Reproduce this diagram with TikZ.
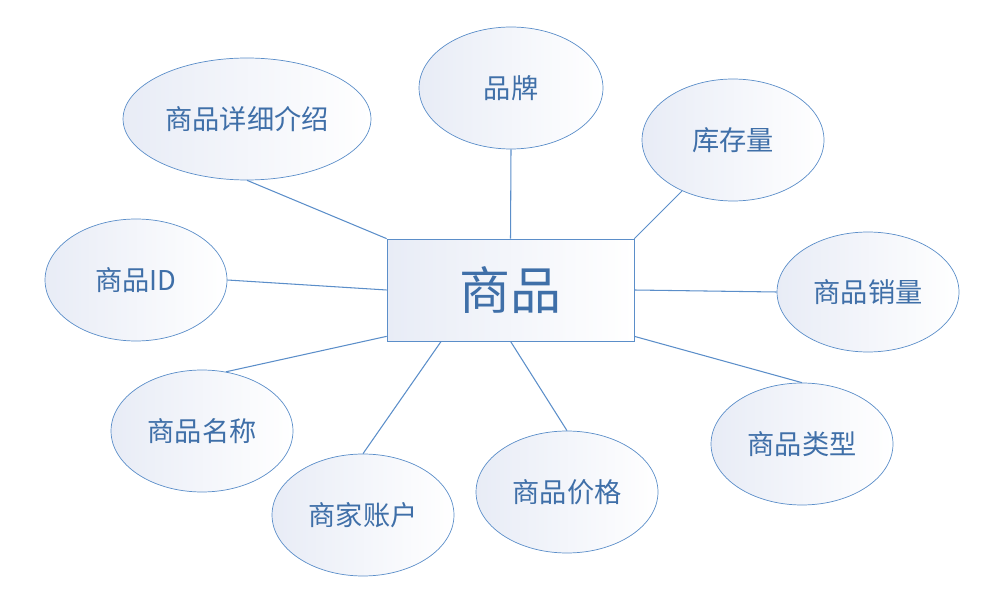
\documentclass[tikz,border=0pt]{standalone}
\usepackage{fontspec}
\setmainfont{Noto Sans CJK SC}
\usetikzlibrary{shapes.geometric,calc}
\definecolor{edgeblue}{HTML}{5B8EC9}
\definecolor{textblue}{HTML}{3F6FA8}
\definecolor{shadeblue}{HTML}{E8ECF6}
\tikzset{
  attr/.style={ellipse,draw=edgeblue,left color=shadeblue,right color=white,
    text=textblue,font=\fontsize{15.5}{17}\selectfont,inner sep=0pt},
  entity/.style={rectangle,draw=edgeblue,left color=shadeblue,right color=white,
    text=textblue,font=\fontsize{29}{32}\selectfont,minimum width=4.94cm,minimum height=2.04cm},
  link/.style={draw=edgeblue,line width=0.6pt}
}
\begin{document}
\begin{tikzpicture}[x=0.02cm,y=-0.02cm]
    \useasboundingbox (0,0) rectangle (993,594);
    %实体
    \node[entity] (goods) at (510.5,290) {商品};
    %属性
    \node[attr,minimum width=3.68cm,minimum height=2.44cm] (brand) at (511,88) {品牌};
    \node[attr,minimum width=4.96cm,minimum height=2.44cm] (detail) at (247,119) {商品详细介绍};
    \node[attr,minimum width=3.64cm,minimum height=2.44cm] (stock) at (733,140) {库存量};
    \node[attr,minimum width=3.64cm,minimum height=2.44cm] (id) at (136,280) {商品ID};
    \node[attr,minimum width=3.64cm,minimum height=2.4cm] (sales) at (868,292) {商品销量};
    \node[attr,minimum width=3.64cm,minimum height=2.44cm] (name) at (202,431) {商品名称};
    \node[attr,minimum width=3.64cm,minimum height=2.44cm] (type) at (802,444) {商品类型};
    \node[attr,minimum width=3.64cm,minimum height=2.44cm] (account) at (363,515) {商家账户};
    \node[attr,minimum width=3.64cm,minimum height=2.44cm] (price) at (567,492) {商品价格};
    %连线
    \draw[link] (brand.south) -- (goods.north);
    \draw[link] (detail.south) -- (goods.north west);
    \draw[link] (stock) -- (goods.north east);
    \draw[link] (id.east) -- (goods.west);
    \draw[link] (sales.west) -- (goods.east);
    \draw[link] (name.68) -- ($(goods.south west)+(0,-5)$);
    \draw[link] (type.north) -- ($(goods.south east)+(0,-5)$);
    \draw[link] (account.north) -- ($(goods.south west)!0.22!(goods.south east)$);
    \draw[link] (price.north) -- (goods.south);
\end{tikzpicture}
\end{document}
